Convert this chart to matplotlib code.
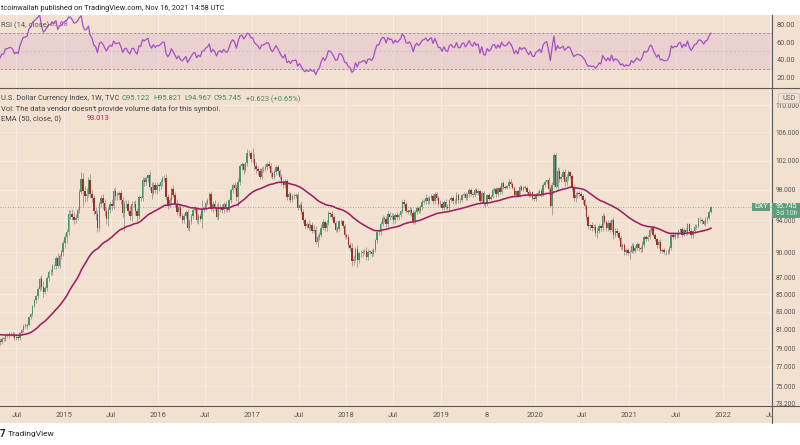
import numpy as np
import pandas as pd
import matplotlib
matplotlib.use('Agg')
import matplotlib.pyplot as plt
import matplotlib.dates as mdates
from matplotlib.patches import Rectangle, FancyBboxPatch
from matplotlib.lines import Line2D
from matplotlib.ticker import NullLocator

plt.rcParams['font.family'] = ['Liberation Sans Narrow', 'Roboto', 'DejaVu Sans']

# weekly closes of DXY, one list per year (weeks ending on Friday)
close_2014 = [80.8, 80.7, 81.2, 80.4, 81.3, 80.7, 80.2, 80.2, 79.7, 79.7,
              79.4, 80.1, 80.1, 80.4, 79.4, 79.9, 79.8, 79.7, 80.0, 80.0,
              80.4, 80.4, 80.5, 80.5, 80.4, 80.1, 80.2, 80.1, 80.6, 81.0,
              81.4, 81.4, 81.5, 82.4, 82.7, 83.7, 84.3, 84.8, 85.6, 86.8,
              85.9, 85.3, 85.7, 86.9, 87.6, 87.6, 88.3, 88.4, 89.3, 88.4,
              89.6, 90.0]
close_2015 = [91.1, 91.9, 92.5, 94.8, 94.8, 94.5, 94.1, 94.3, 95.3, 97.7,
              99.5, 97.9, 97.2, 97.5, 99.3, 97.5, 96.9, 95.2, 94.8, 93.1,
              96.1, 96.9, 96.3, 95.2, 94.2, 95.4, 96.2, 95.9, 97.9, 97.2,
              97.3, 97.6, 96.6, 94.9, 96.1, 96.2, 95.2, 94.6, 96.1, 96.2,
              95.2, 94.6, 97.0, 96.9, 99.3, 99.0, 99.6, 100.0, 98.4, 97.6,
              98.7, 98.0]
close_2016 = [98.6, 98.5, 99.0, 99.6, 99.6, 97.0, 96.0, 96.6, 98.1, 97.3,
              96.2, 95.1, 95.8, 94.6, 94.1, 94.6, 95.1, 93.1, 93.9, 94.6,
              95.3, 95.5, 94.0, 94.6, 94.2, 95.5, 95.6, 96.3, 96.6, 97.4,
              95.5, 96.2, 95.7, 94.5, 95.5, 95.8, 95.3, 96.1, 95.5, 95.4,
              96.6, 98.0, 98.7, 98.3, 97.0, 99.1, 101.2, 101.5, 100.7, 101.6,
              103.1, 103.0, 102.2]
close_2017 = [102.2, 101.2, 100.8, 100.5, 99.8, 100.8, 100.9, 101.1, 101.5, 101.3,
              100.3, 99.8, 100.4, 101.1, 100.5, 99.8, 99.0, 98.6, 99.2, 97.1,
              97.4, 96.7, 97.2, 97.2, 97.3, 95.6, 96.0, 95.1, 94.0, 93.3,
              93.5, 93.1, 93.4, 92.7, 92.8, 91.3, 91.9, 92.2, 93.1, 93.8,
              93.1, 93.7, 94.9, 94.8, 94.4, 93.7, 92.8, 92.9, 93.9, 93.9,
              93.3, 92.1]
close_2018 = [91.9, 90.9, 90.6, 89.0, 89.2, 90.4, 89.1, 89.9, 89.9, 90.1,
              90.2, 89.4, 90.1, 90.1, 89.8, 90.3, 91.5, 92.5, 92.5, 93.6,
              94.3, 94.2, 93.5, 94.8, 94.5, 94.6, 94.0, 94.7, 94.4, 94.7,
              95.2, 96.4, 96.1, 95.2, 95.1, 95.4, 94.9, 93.9, 95.1, 95.6,
              95.2, 95.7, 96.4, 96.5, 96.9, 96.5, 96.9, 97.2, 96.5, 97.5,
              96.9, 96.2]
close_2019 = [96.2, 95.6, 96.4, 95.8, 95.6, 96.6, 96.9, 96.5, 96.5, 97.3,
              96.6, 96.6, 97.3, 97.4, 96.9, 97.4, 98.0, 97.5, 97.3, 98.0,
              97.6, 97.8, 96.5, 97.6, 96.2, 96.1, 97.3, 96.8, 97.1, 98.0,
              98.1, 97.5, 98.2, 97.7, 98.9, 98.4, 98.3, 98.5, 99.1, 98.8,
              98.3, 97.3, 97.8, 97.2, 98.4, 98.0, 98.3, 98.3, 97.7, 97.2,
              97.7, 96.9]
close_2020 = [96.8, 97.4, 97.6, 97.9, 97.4, 98.7, 99.1, 99.3, 98.1, 95.9,
              98.7, 102.8, 98.4, 100.6, 99.5, 99.8, 100.4, 99.0, 99.7, 100.4,
              99.9, 98.3, 96.9, 97.3, 97.6, 97.4, 97.2, 96.6, 95.9, 94.4,
              93.3, 93.4, 93.1, 93.2, 92.4, 92.7, 93.3, 93.0, 94.6, 93.8,
              93.1, 93.7, 92.8, 94.0, 92.2, 92.7, 92.4, 91.8, 90.7, 90.9,
              90.0, 90.3]
close_2021 = [89.9, 90.1, 90.8, 90.2, 90.6, 91.0, 90.5, 90.4, 90.9, 91.9,
              91.7, 91.9, 92.8, 93.0, 92.2, 91.6, 90.9, 91.3, 90.2, 90.3,
              90.0, 90.0, 90.1, 90.6, 92.2, 91.9, 92.2, 92.1, 92.7, 92.9,
              92.2, 92.8, 92.5, 93.5, 92.7, 92.1, 92.6, 93.2, 93.3, 94.0,
              94.1, 93.9, 93.6, 94.1, 94.3, 95.122, 95.745]

# wick lengths above / below the candle body
wick_up_2014 = [0.3,0.4,0.2,0.5,0.2,0.4,0.3,0.2,0.3,0.4, 0.3,0.2,0.3,0.2,0.4,0.2,0.3,0.3,0.2,0.2,
                0.1,0.2,0.3,0.2,0.2,0.3,0.2,0.2,0.1,0.1, 0.2,0.3,0.2,0.1,0.2,0.1,0.2,0.1,0.2,0.2,
                0.5,0.6,0.3,0.2,0.3,0.4,0.3,0.2,0.3,0.6, 0.2,0.3]
wick_dn_2014 = [0.3,0.2,0.4,0.3,0.2,0.3,0.2,0.3,0.2,0.3, 0.3,0.4,0.2,0.3,0.2,0.3,0.2,0.4,0.3,0.2,
                0.2,0.2,0.3,0.2,0.2,0.2,0.2,0.2,0.2,0.2, 0.3,0.2,0.3,0.1,0.2,0.2,0.2,0.3,0.3,0.2,
                0.4,0.6,0.3,0.3,0.3,0.3,0.3,0.3,0.4,0.3, 0.3,0.4]
wick_up_2015 = [0.4,0.5,0.4,0.5,0.6,0.7,0.6,0.5,0.3,0.4, 0.9,0.8,0.6,0.8,0.5,0.9,0.5,0.4,0.6,0.5,
                0.3,0.4,0.6,0.5,0.6,0.4,0.3,0.6,0.3,0.5, 0.4,0.3,0.4,0.5,0.4,0.4,0.5,0.7,0.4,0.3,
                0.5,0.4,0.3,0.2,0.4,0.5,0.3,0.2,0.5,0.6, 0.4,0.3]
wick_dn_2015 = [0.4,0.5,0.8,0.3,0.6,0.5,0.6,0.4,0.3,0.4, 0.3,2.0,0.8,0.7,0.4,0.6,0.5,0.5,0.7,0.6,
                0.4,0.3,0.8,0.6,0.7,0.9,0.4,0.5,0.4,0.6, 0.5,0.5,0.4,0.5,2.3,0.5,0.4,0.6,0.7,0.4,
                0.5,0.7,0.4,0.4,0.4,0.5,0.4,0.5,0.4,0.8, 0.3,0.4]
wick_up_2016 = [0.4,0.3,0.4,0.3,0.4,0.6,0.4,0.5,0.3,0.5, 0.4,0.6,0.3,0.4,0.3,0.4,0.3,0.4,0.3,0.2,
                0.3,0.4,0.3,0.2,0.3,1.2,0.3,0.2,0.3,0.3, 0.5,0.3,0.4,0.4,0.9,0.3,0.4,0.3,0.4,0.3,
                0.2,0.3,0.2,0.3,0.5,0.5,0.3,0.3,0.2,0.2, 0.5,0.4,0.3]
wick_dn_2016 = [0.5,0.6,0.4,0.5,0.4,0.3,0.5,0.4,0.4,0.3, 0.5,0.4,0.5,0.3,0.4,0.4,0.3,0.3,0.5,0.3,
                0.4,0.3,0.3,0.5,0.3,1.2,0.4,0.3,0.3,0.4, 0.3,0.4,0.3,0.3,0.5,0.4,0.3,0.4,0.3,0.3,
                0.3,0.3,0.4,0.3,0.5,1.1,0.4,0.5,0.6,0.3, 0.4,0.3,0.4]
wick_up_2017 = [1.6,0.8,0.6,0.4,0.5,0.3,0.3,0.4,0.3,0.4, 0.4,0.3,0.3,0.3,0.3,0.4,0.3,0.3,0.3,0.3,
                0.3,0.3,0.2,0.4,0.3,0.4,0.3,0.5,0.4,0.3, 0.3,0.5,0.3,0.4,0.6,0.5,0.4,0.3,0.4,0.4,
                0.3,0.3,0.3,0.2,0.4,0.3,0.2,0.4,0.2,0.3, 0.2,0.3]
wick_dn_2017 = [0.6,0.5,0.5,0.5,0.4,0.3,0.4,0.3,0.4,0.3, 0.5,0.4,0.3,0.4,0.3,0.4,0.4,0.3,0.3,0.5,
                0.4,0.3,0.3,0.4,0.3,0.3,0.3,0.3,0.3,0.4, 0.3,0.3,0.3,0.3,0.3,0.3,0.6,0.4,0.3,0.3,
                0.4,0.4,0.3,0.3,0.3,0.2,0.3,0.3,0.2,0.3, 0.3,0.3]
wick_up_2018 = [0.3,0.4,0.4,0.5,0.3,0.3,0.5,0.3,0.4,0.3, 0.2,0.5,0.3,0.2,0.3,0.2,0.2,0.3,0.3,0.3,
                0.4,0.3,0.4,0.4,0.3,0.4,0.4,0.2,0.4,0.3, 0.2,0.2,0.4,0.3,0.3,0.3,0.4,0.5,0.3,0.3,
                0.3,0.3,0.4,0.3,0.5,0.3,0.3,0.2,0.3,0.2, 0.2,0.3]
wick_dn_2018 = [0.3,0.3,0.4,0.6,0.5,0.3,0.9,0.4,0.5,0.3, 0.3,0.3,0.3,0.3,0.4,0.3,0.3,0.3,0.3,0.3,
                0.3,0.4,0.3,0.3,0.4,0.3,0.4,0.3,0.3,0.3, 0.3,0.3,0.4,0.3,0.3,0.4,0.3,0.3,0.3,0.3,
                0.3,0.2,0.3,0.3,0.3,0.4,0.3,0.2,0.3,0.3, 0.3,0.3]
wick_up_2019 = [0.5,0.3,0.3,0.4,0.3,0.2,0.3,0.3,0.3,0.4, 0.3,0.3,0.2,0.3,0.3,0.2,0.3,0.3,0.2,0.2,
                0.3,0.3,0.2,0.3,0.3,0.2,0.2,0.3,0.2,0.2, 0.3,0.3,0.2,0.3,0.1,0.3,0.3,0.2,0.3,0.3,
                0.3,0.2,0.2,0.2,0.2,0.2,0.2,0.3,0.2,0.4, 0.2,0.2]
wick_dn_2019 = [0.4,0.3,0.3,0.3,0.3,0.2,0.2,0.3,0.3,0.3, 0.3,0.3,0.2,0.3,0.2,0.2,0.3,0.3,0.3,0.2,
                0.2,0.3,0.3,0.2,0.3,0.3,0.2,0.2,0.2,0.2, 0.3,0.4,0.3,0.3,0.2,0.3,0.2,0.2,0.3,0.3,
                0.2,0.2,0.3,0.2,0.2,0.2,0.2,0.2,0.2,0.2, 0.2,0.2]
wick_up_2020 = [0.3,0.2,0.2,0.2,0.3,0.2,0.2,0.2,0.4,0.4, 0.3,0.2,0.2,0.5,0.4,0.4,0.3,0.5,0.4,0.3,
                0.2,0.3,0.3,0.4,0.3,0.3,0.4,0.3,0.3,0.3, 0.3,0.2,0.4,0.3,0.3,0.3,0.3,0.3,0.3,0.2,
                0.3,0.3,0.3,0.2,0.5,0.3,0.3,0.3,0.2,0.3, 0.3,0.3]
wick_dn_2020 = [0.3,0.3,0.2,0.3,0.3,0.2,0.3,0.3,0.4,0.2, 1.25,0.3,0.1,0.6,0.4,0.5,0.4,0.5,0.4,0.4,
                0.3,0.5,0.4,0.5,0.4,0.3,0.4,0.4,0.4,0.4, 0.4,0.5,0.4,0.3,0.4,0.6,0.3,0.4,0.3,0.3,
                0.4,0.4,0.3,0.3,0.5,0.3,0.4,0.3,0.3,0.4, 0.3,0.3]
wick_up_2021 = [0.3,0.2,0.3,0.3,0.3,0.3,0.2,0.3,0.5,0.2, 0.3,0.2,0.3,0.2,0.3,0.2,0.2,0.2,0.3,0.3,
                0.3,0.3,0.3,0.2,0.2,0.3,0.3,0.2,0.2,0.2, 0.3,0.2,0.2,0.2,0.2,0.3,0.2,0.3,0.3,0.5,
                0.3,0.2,0.2,0.3,0.3,0.2,0.076]
wick_dn_2021 = [0.2,0.7,0.2,0.3,0.3,0.3,0.3,0.3,0.3,0.2, 0.3,0.3,0.2,0.3,0.2,0.2,0.3,0.3,0.3,0.3,
                0.2,0.3,0.2,0.3,0.3,0.2,0.3,0.3,0.3,0.3, 0.3,0.2,0.3,0.4,0.2,0.3,0.3,0.2,0.3,0.3,
                0.3,0.3,0.2,0.3,0.4,0.3,0.155]

price_ticks = [73.2, 75, 77, 79, 81, 83, 85, 87, 90, 94, 98, 102, 106, 110]
time_ticks = ['2014-07-01', '2015-01-01', '2015-07-01', '2016-01-01', '2016-07-01', '2017-01-01',
              '2017-07-01', '2018-01-01', '2018-07-01', '2019-01-01', '2019-07-01', '2020-01-01',
              '2020-07-01', '2021-01-01', '2021-07-01', '2022-01-01', '2022-07-01']
time_labels = ['Jul', '2015', 'Jul', '2016', 'Jul', '2017', 'Jul', '2018', 'Jul', '2019', '8',
               '2020', 'Jul', '2021', 'Jul', '2022', 'Ju']
rsi_ticks = [20, 40, 60, 80]

closes = np.array(close_2014 + close_2015 + close_2016 + close_2017 + close_2018
                  + close_2019 + close_2020 + close_2021)
wick_up = np.array(wick_up_2014 + wick_up_2015 + wick_up_2016 + wick_up_2017 + wick_up_2018
                   + wick_up_2019 + wick_up_2020 + wick_up_2021)
wick_dn = np.array(wick_dn_2014 + wick_dn_2015 + wick_dn_2016 + wick_dn_2017 + wick_dn_2018
                   + wick_dn_2019 + wick_dn_2020 + wick_dn_2021)
weeks = pd.date_range('2013-12-30', periods=len(closes), freq='W-MON')
x = mdates.date2num(weeks.to_pydatetime())

opens = np.r_[closes[0], closes[:-1]]
highs = np.maximum(opens, closes) + wick_up
lows = np.minimum(opens, closes) - wick_dn

ema = pd.Series(closes).ewm(span=50, adjust=False).mean().values
delta = np.diff(closes, prepend=closes[0])
gain = pd.Series(np.clip(delta, 0, None)).ewm(alpha=1 / 14, adjust=False).mean()
loss = pd.Series(np.clip(-delta, 0, None)).ewm(alpha=1 / 14, adjust=False).mean()
rsi = (100 - 100 / (1 + gain / loss)).values

BG = '#f2e1d1'
GRID = '#f7ebe1'
UP = '#4a9669'
DOWN = '#a02f28'
W, H = 800, 445


def fx(px):
    return px / W


def fy(py):
    return 1 - py / H


fig = plt.figure(figsize=(8, 4.45), dpi=100, facecolor='white')
fig.add_artist(Rectangle((0, fy(423)), 1, fy(15) - fy(423), transform=fig.transFigure,
                         facecolor=BG, edgecolor='none', zorder=-10))

ax = fig.add_axes([0, fy(406), fx(772), (406 - 88) / H])
rax = fig.add_axes([0, fy(88), fx(772), (88 - 15) / H], sharex=ax)
for a in (ax, rax):
    a.set_facecolor(BG)
    for s in a.spines.values():
        s.set_visible(False)

# candles
up = closes >= opens
ax.vlines(x, lows, highs, color='#7d7d7d', lw=0.6, alpha=0.75, zorder=2)
body_lo = np.minimum(opens, closes)
body_h = np.maximum(np.abs(closes - opens), 0.05)
ax.bar(x, body_h, bottom=body_lo, width=5.6, color=np.where(up, UP, DOWN),
       edgecolor='none', zorder=3)
ax.plot(x, ema, color='#9e1f63', lw=1.15, zorder=4)
ax.axhline(95.745, color='#6aa985', ls=(0, (1, 2)), lw=0.6, zorder=1)

ax.set_yscale('log')
ax.set_ylim(73.0, 112.6)
ax.set_yticks(price_ticks)
ax.set_yticklabels(['%.3f' % v for v in price_ticks])
ax.yaxis.set_minor_locator(NullLocator())
ax.yaxis.tick_right()
ax.tick_params(axis='y', length=0, pad=2.6, labelsize=4.7, labelcolor='#555555')

tick_pos = mdates.date2num(pd.to_datetime(time_ticks).to_pydatetime())
ax.set_xticks(tick_pos)
ax.set_xticklabels(time_labels)
ax.set_xlim(mdates.date2num(pd.Timestamp('2014-04-28')), mdates.date2num(pd.Timestamp('2022-07-10')))
ax.tick_params(axis='x', length=0, pad=4, labelsize=5.4, labelcolor='#555555')
ax.grid(True, color=GRID, lw=0.8, zorder=0)
ax.set_axisbelow(True)

# RSI pane
rax.axhspan(30, 70, color='#9c27b0', alpha=0.09, lw=0, zorder=1)
rax.axhline(70, color='#9a8c92', ls=(0, (3, 2)), lw=0.6, zorder=2)
rax.axhline(30, color='#9a8c92', ls=(0, (3, 2)), lw=0.6, zorder=2)
rax.axhline(50, color='#c9b5bd', ls=(0, (3, 3)), lw=0.5, zorder=2)
rax.plot(x, rsi, color='#a54fc4', lw=0.9, zorder=3)
rax.set_ylim(8.7, 90.2)
rax.set_yticks(rsi_ticks)
rax.set_yticklabels(['%.2f' % v for v in rsi_ticks])
rax.yaxis.tick_right()
rax.tick_params(axis='y', length=0, pad=3.2, labelsize=5.3, labelcolor='#555555')
rax.tick_params(axis='x', length=0, labelbottom=False)
rax.grid(True, axis='x', color=GRID, lw=0.8, zorder=0)
rax.set_axisbelow(True)

# separators
line_kw = dict(transform=fig.transFigure, color='#5a5a5a', lw=0.8, zorder=5)
fig.add_artist(Line2D([fx(772), fx(772)], [fy(15), fy(423)], **line_kw))
fig.add_artist(Line2D([0, 1], [fy(406), fy(406)], **line_kw))
fig.add_artist(Line2D([0, 1], [fy(88), fy(88)], **line_kw))

# texts
fs = 5.4
fig.text(fx(1), fy(9), 'tcoinwallah published on TradingView.com, Nov 16, 2021 14:58 UTC',
         fontsize=5.3, color='#222222', va='center')
fig.text(fx(1), fy(25), 'RSI (14, close)', fontsize=fs, color='#555555', va='center', zorder=6)
fig.text(fx(50), fy(25), '69.68', fontsize=fs, color='#a54fc4', va='center', zorder=6)
fig.text(fx(1), fy(99), 'U.S. Dollar Currency Index, 1W, TVC', fontsize=fs, color='#444444', va='center')
for px_, s in [(122, 'O95.122'), (153, 'H95.821'), (184, 'L94.967'), (214, 'C95.745'),
               (246, '+0.623 (+0.65%)')]:
    fig.text(fx(px_), fy(99), s, fontsize=fs, color='#3f8a5d', va='center')
fig.text(fx(1), fy(109), "Vol: The data vendor doesn't provide volume data for this symbol.",
         fontsize=fs, color='#444444', va='center')
fig.text(fx(1), fy(119), 'EMA (50, close, 0)', fontsize=fs, color='#444444', va='center')
fig.text(fx(87), fy(119), '93.013', fontsize=fs, color='#9e1f63', va='center')

# last price labels
fig.add_artist(Rectangle((fx(752), fy(210.5)), fx(18), 8 / H, transform=fig.transFigure,
                         facecolor='#5e9e7c', edgecolor='none', zorder=6))
fig.text(fx(761), fy(206.5), 'DXY', fontsize=5.2, color='white', ha='center', va='center', zorder=7)
fig.add_artist(Rectangle((fx(772), fy(217.5)), fx(28), 15 / H, transform=fig.transFigure,
                         facecolor='#5e9e7c', edgecolor='none', zorder=6))
fig.text(fx(776), fy(206.5), '95.745', fontsize=5.0, color='white', va='center', zorder=7)
fig.text(fx(776), fy(213.8), '3d 10h', fontsize=5.0, color='#d5eadc', va='center', zorder=7)

fig.add_artist(FancyBboxPatch((fx(780), fy(102.5)), fx(18), 8 / H,
                              boxstyle='round,pad=0.002', transform=fig.transFigure,
                              facecolor=BG, edgecolor='#cdbdb0', lw=0.6, zorder=6))
fig.text(fx(789), fy(98.5), 'USD', fontsize=5.0, color='#666666', ha='center', va='center', zorder=7)

# footer
fig.text(fx(0), fy(434), '7', fontsize=7, color='#222222', va='center', fontweight='bold')
fig.text(fx(8), fy(434), 'TradingView', fontsize=6.0, color='#222222', va='center')

fig.savefig('out.png', dpi=100, facecolor='white')
